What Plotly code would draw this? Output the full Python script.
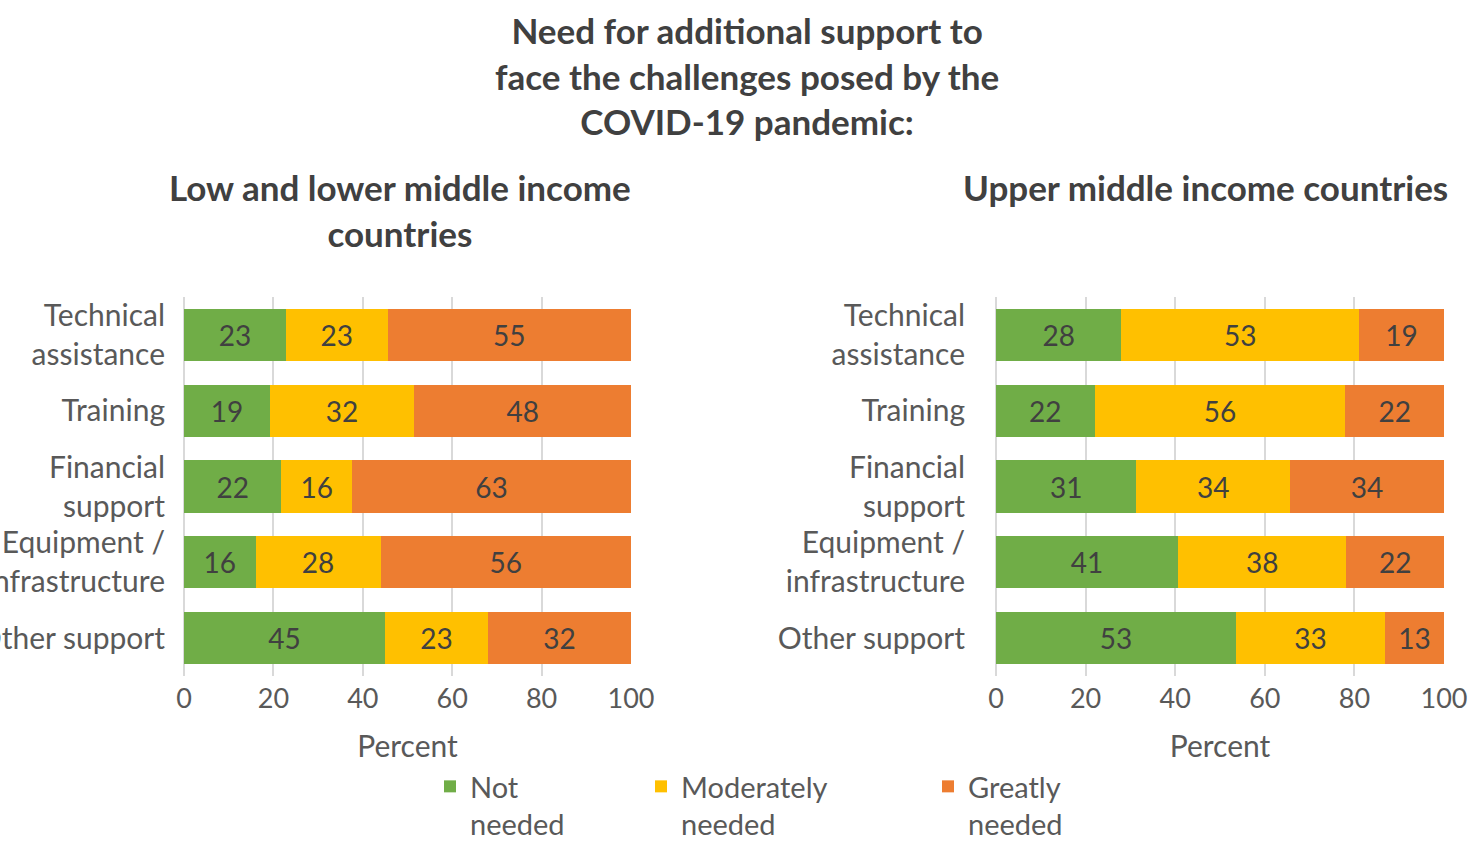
import plotly.graph_objects as go
from plotly.subplots import make_subplots

# Support categories, top to bottom
categories = [
    "Technical<br>assistance",
    "Training",
    "Financial<br>support",
    "Equipment /<br>infrastructure",
    "Other support",
]

# Response shares (percent) - low and lower middle income countries
low_not_needed = [23, 19, 22, 16, 45]
low_moderately = [23, 32, 16, 28, 23]
low_greatly = [55, 48, 63, 56, 32]

# Response shares (percent) - upper middle income countries
upper_not_needed = [28, 22, 31, 41, 53]
upper_moderately = [53, 56, 34, 38, 33]
upper_greatly = [19, 22, 34, 22, 13]

series_names = ["Not<br>needed", "Moderately<br>needed", "Greatly<br>needed"]
series_colors = ["#70AD47", "#FFC000", "#ED7D31"]
x_ticks = [0, 20, 40, 60, 80, 100]

FONT = "Lato"
TEXT_GRAY = "#595959"
DARK_GRAY = "#404040"
W, H = 1468, 850

# one legend per response level so each entry sits at its own position
legend_ids = ["legend", "legend2", "legend3"]
legend_x = [430, 641, 928]

fig = make_subplots(rows=1, cols=2)

panels = [
    (1, [low_not_needed, low_moderately, low_greatly]),
    (2, [upper_not_needed, upper_moderately, upper_greatly]),
]
for col, values in panels:
    for name, color, vals, lg in zip(series_names, series_colors, values, legend_ids):
        fig.add_trace(
            go.Bar(
                y=categories,
                x=vals,
                orientation="h",
                name=name,
                marker=dict(color=color, line=dict(width=0)),
                text=vals,
                texttemplate="%{text}",
                textposition="inside",
                insidetextanchor="middle",
                constraintext="none",
                textfont=dict(family=FONT, size=28, color=DARK_GRAY),
                showlegend=(col == 1),
                legend=lg,
                hoverinfo="skip",
            ),
            row=1,
            col=col,
        )

legend_style = dict(
    orientation="h",
    y=0,
    yanchor="bottom",
    xanchor="left",
    valign="top",
    font=dict(family=FONT, size=29, color=TEXT_GRAY),
    itemwidth=30,
    bgcolor="rgba(0,0,0,0)",
)

fig.update_layout(
    width=W,
    height=H,
    barmode="stack",
    barnorm="percent",
    bargap=0.31,
    plot_bgcolor="white",
    paper_bgcolor="white",
    margin=dict(l=0, r=0, t=0, b=0),
    font=dict(family=FONT, color=TEXT_GRAY),
    legend=dict(x=legend_x[0] / W, **legend_style),
    legend2=dict(x=legend_x[1] / W, **legend_style),
    legend3=dict(x=legend_x[2] / W, **legend_style),
)

x_domains = [[184 / W, 631 / W], [996 / W, 1444 / W]]
label_standoffs = [18, 30]
y_domain = [1 - 676 / H, 1 - 297 / H]
for i, (dom, standoff) in enumerate(zip(x_domains, label_standoffs), start=1):
    fig.update_xaxes(
        domain=dom,
        range=[0, 100],
        tickvals=x_ticks,
        showgrid=True,
        gridcolor="#D9D9D9",
        gridwidth=1.5,
        zeroline=True,
        zerolinecolor="#D9D9D9",
        zerolinewidth=1.5,
        showline=False,
        tickfont=dict(family=FONT, size=27, color=TEXT_GRAY),
        ticklabelstandoff=4,
        title=dict(text="Percent", font=dict(family=FONT, size=30, color=TEXT_GRAY), standoff=22),
        automargin=False,
        row=1,
        col=i,
    )
    fig.update_yaxes(
        domain=y_domain,
        autorange="reversed",
        showgrid=False,
        showline=False,
        tickfont=dict(family=FONT, size=30, color=TEXT_GRAY),
        ticklabelstandoff=standoff,
        automargin=False,
        row=1,
        col=i,
    )

# Main title
fig.add_annotation(
    text="<b>Need for additional support to<br>face the challenges posed by the<br>COVID-19 pandemic:</b>",
    x=747 / W, y=1 - 7 / H, xref="paper", yref="paper",
    xanchor="center", yanchor="top", showarrow=False,
    font=dict(family=FONT, size=35, color=DARK_GRAY),
)
# Panel titles
fig.add_annotation(
    text="<b>Low and lower middle income<br>countries</b>",
    x=400 / W, y=1 - 164 / H, xref="paper", yref="paper",
    xanchor="center", yanchor="top", showarrow=False,
    font=dict(family=FONT, size=35, color=DARK_GRAY),
)
fig.add_annotation(
    text="<b>Upper middle income countries</b>",
    x=1205 / W, y=1 - 164 / H, xref="paper", yref="paper",
    xanchor="center", yanchor="top", showarrow=False,
    font=dict(family=FONT, size=35, color=DARK_GRAY),
)

fig.write_html("out.html")
